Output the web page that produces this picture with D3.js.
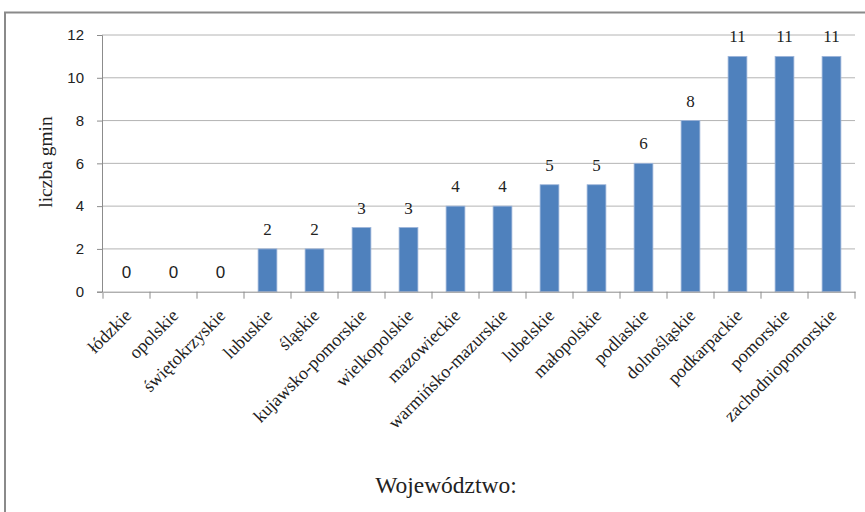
<!DOCTYPE html>
<html>
<head>
<meta charset="utf-8">
<script src="https://cdn.jsdelivr.net/npm/d3@7"></script>
<style>
body { margin: 0; background: #fff; }
svg { display: block; }
</style>
</head>
<body>
<script>
window.onload = function(){

let categories = ["łódzkie", "opolskie", "świętokrzyskie", "lubuskie", "śląskie",
	"kujawsko-pomorskie", "wielkopolskie", "mazowieckie", "warmińsko-mazurskie",
	"lubelskie", "małopolskie", "podlaskie", "dolnośląskie", "podkarpackie",
	"pomorskie", "zachodniopomorskie"];
let values = [0, 0, 0, 2, 2, 3, 3, 4, 4, 5, 5, 6, 8, 11, 11, 11];
let yTicks = [0, 2, 4, 6, 8, 10, 12];
let yTitle = "liczba gmin";
let xTitle = "Województwo:";

let W = 865, H = 512;
let plot = {left: 103, right: 855, top: 35, bottom: 291.7};

let serif = "'Liberation Serif', 'Times New Roman', serif";
let sans = "'Liberation Sans', Arial, sans-serif";

let svg = d3.select("body").append("svg")
	.attr("width", W)
	.attr("height", H);

// outer frame (right and bottom run off the page)
svg.append("rect")
	.attr("x", 5).attr("y", 12.5)
	.attr("width", 900).attr("height", 560)
	.attr("fill", "none")
	.attr("stroke", "#8a8a8a")
	.attr("stroke-width", 2);

let x = d3.scaleBand()
	.domain(categories)
	.range([plot.left, plot.right])
	.paddingInner(0.6)
	.paddingOuter(0.3);

let xb = d3.scaleBand().domain(categories).range([plot.left, plot.right]);

let y = d3.scaleLinear().domain([0, 12]).range([plot.bottom, plot.top]);

// gridlines
svg.append("g")
	.selectAll("line")
	.data(yTicks.filter(d => d > 0))
	.enter().append("line")
	.attr("x1", plot.left - 1).attr("x2", plot.right)
	.attr("y1", d => y(d)).attr("y2", d => y(d))
	.attr("stroke", "#b4b4b4")
	.attr("stroke-width", 1);

// y axis
let yAxis = svg.append("g")
	.attr("transform", "translate(" + (plot.left - 1) + ",0)")
	.call(d3.axisLeft(y).tickValues(yTicks).tickSize(5).tickPadding(13));
yAxis.select(".domain").attr("stroke", "#8c8c8c");
yAxis.selectAll(".tick line").attr("stroke", "#8c8c8c");
yAxis.selectAll("text")
	.attr("font-family", sans)
	.attr("font-size", 15)
	.attr("fill", "#222");

// bars
svg.append("g")
	.selectAll("rect")
	.data(values)
	.enter().append("rect")
	.attr("x", (d, i) => x(categories[i]))
	.attr("y", d => y(d))
	.attr("width", x.bandwidth())
	.attr("height", d => y(0) - y(d))
	.attr("fill", "#4f81bd")
	.attr("stroke", "#9db5da")
	.attr("stroke-width", 0.8);

// x axis
let xAxis = svg.append("g")
	.attr("transform", "translate(0," + plot.bottom + ")")
	.call(d3.axisBottom(xb).tickSize(0).tickFormat(""));
xAxis.select(".domain").attr("stroke", "#8c8c8c");
svg.append("g")
	.selectAll("line")
	.data(categories.concat(["end"]))
	.enter().append("line")
	.attr("x1", (d, i) => plot.left + i * xb.bandwidth())
	.attr("x2", (d, i) => plot.left + i * xb.bandwidth())
	.attr("y1", plot.bottom)
	.attr("y2", plot.bottom + 7)
	.attr("stroke", "#8c8c8c");

// category labels
svg.append("g")
	.selectAll("text")
	.data(categories)
	.enter().append("text")
	.attr("transform", d => "translate(" + (xb(d) + xb.bandwidth() / 2 + 6) + "," + (plot.bottom + 25) + ") rotate(-45)")
	.attr("text-anchor", "end")
	.attr("font-family", serif)
	.attr("font-size", 18)
	.attr("fill", "#222")
	.text(d => d);

// value labels
svg.append("g")
	.selectAll("text")
	.data(values)
	.enter().append("text")
	.attr("x", (d, i) => xb(categories[i]) + xb.bandwidth() / 2)
	.attr("y", d => y(d) - 14)
	.attr("text-anchor", "middle")
	.attr("font-family", d => d === 0 ? sans : serif)
	.attr("font-size", 17)
	.attr("fill", "#222")
	.text(d => d);

// axis titles
svg.append("text")
	.attr("transform", "translate(52,162) rotate(-90)")
	.attr("text-anchor", "middle")
	.attr("font-family", serif)
	.attr("font-size", 19.5)
	.attr("fill", "#222")
	.text(yTitle);

svg.append("text")
	.attr("x", 446)
	.attr("y", 493)
	.attr("text-anchor", "middle")
	.attr("font-family", serif)
	.attr("font-size", 23.5)
	.attr("fill", "#222")
	.text(xTitle);

}
</script>
</body>
</html>
